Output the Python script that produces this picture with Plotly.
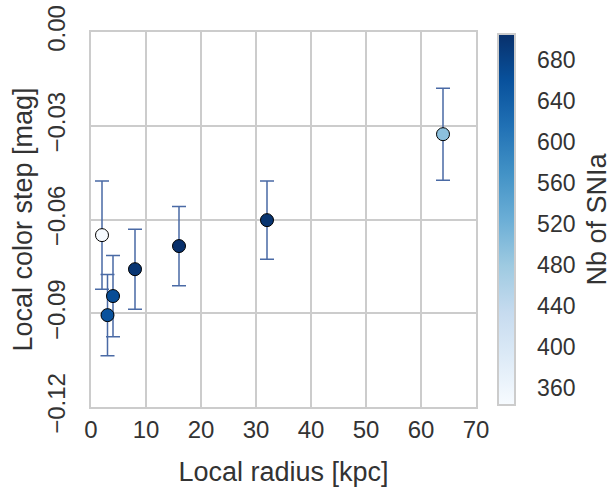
import plotly.graph_objects as go

local_radius = [2, 3, 4, 8, 16, 32, 64]
color_step = [-0.065, -0.0906, -0.0845, -0.0759, -0.0685, -0.0602, -0.0327]
step_err = [0.0173, 0.013, 0.013, 0.0128, 0.0127, 0.0125, 0.0147]
nb_snia = [343, 658, 665, 698, 705, 700, 495]
cbar_ticks = [360, 400, 440, 480, 520, 560, 600, 640, 680]
y_ticks = [0.0, -0.03, -0.06, -0.09, -0.12]
y_tick_text = ["0.00", "\u22120.03", "\u22120.06", "\u22120.09", "\u22120.12"]

blues = ["#f7fbff", "#deebf7", "#c6dbef", "#9ecae1", "#6baed6",
         "#4292c6", "#2171b5", "#08519c", "#08306b"]
colorscale = [[i / (len(blues) - 1), c] for i, c in enumerate(blues)]

font = "Liberation Sans, Arial, sans-serif"
grid = "#cccccc"
txt = "#333333"
clear = "rgba(0,0,0,0)"

fig = go.Figure()
fig.add_trace(go.Scatter(
    x=local_radius, y=color_step, mode="markers",
    error_y=dict(type="data", array=step_err, color="#4a6aa5", thickness=1.5, width=7),
    marker=dict(size=13, color=nb_snia, colorscale=colorscale, cmin=343, cmax=705,
                line=dict(color="black", width=1),
                colorbar=dict(
                    tickvals=cbar_ticks, ticks="outside", ticklen=17, tickcolor=clear,
                    tickfont=dict(size=23, color=txt),
                    thickness=17, lenmode="pixels", len=371, yanchor="middle", y=0.5,
                    x=1.058, xanchor="left", xpad=0, ypad=0,
                    outlinewidth=2, outlinecolor=grid)),
    showlegend=False,
))

fig.add_annotation(text="Nb of SNIa", xref="paper", yref="paper", x=1.312, y=0.5,
                   textangle=-90, showarrow=False, font=dict(size=27, color=txt),
                   xanchor="center", yanchor="middle")

fig.update_layout(
    width=611, height=490,
    margin=dict(l=91, r=135, t=32, b=83, autoexpand=False),
    paper_bgcolor="white", plot_bgcolor="white",
    font=dict(family=font, color=txt),
    xaxis=dict(range=[0, 70], tickvals=[0, 10, 20, 30, 40, 50, 60, 70], automargin=False,
               showgrid=True, gridcolor=grid, gridwidth=2, zeroline=False,
               showline=True, linecolor=grid, linewidth=2, mirror=True,
               ticks="", tickfont=dict(size=24, color=txt), ticklabeloverflow="allow",
               title=dict(text="Local radius [kpc]", font=dict(size=27, color=txt), standoff=20)),
    yaxis=dict(range=[-0.12, 0.0], tickvals=y_ticks, ticktext=y_tick_text, tickangle=-90,
               automargin=False, ticklabeloverflow="allow",
               showgrid=True, gridcolor=grid, gridwidth=2, zeroline=False,
               showline=True, linecolor=grid, linewidth=2, mirror=True,
               ticks="outside", ticklen=14, tickcolor=clear, tickfont=dict(size=24, color=txt),
               title=dict(text="Local color step [mag]", font=dict(size=27, color=txt), standoff=3)),
)

fig.write_html("out.html", config={"displayModeBar": False},
               post_script="document.body.style.margin='0';document.body.style.overflow='hidden';")
